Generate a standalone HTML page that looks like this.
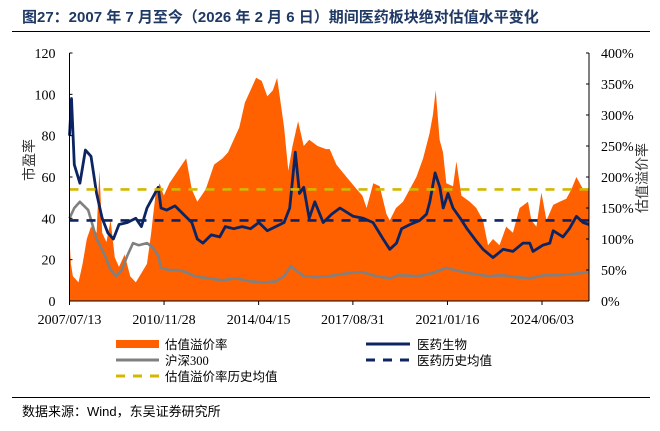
<!DOCTYPE html>
<html><head><meta charset="utf-8">
<style>
body{margin:0;background:#fff;width:660px;height:426px;overflow:hidden;font-family:"Liberation Serif","Noto Serif CJK SC",serif;}
svg text{font-family:"Liberation Serif","Noto Sans CJK SC",serif;}
</style></head><body>
<svg id="chart" width="660" height="426" xmlns="http://www.w3.org/2000/svg">
<text x="22" y="22" font-size="15" font-weight="bold" fill="#1f3864" style="font-family:'Liberation Sans','Noto Sans CJK SC',sans-serif">图27：2007 年 7 月至今（2026 年 2 月 6 日）期间医药板块绝对估值水平变化</text>
<line x1="12" y1="31.5" x2="650" y2="31.5" stroke="#000" stroke-width="1"/>
<line x1="12" y1="397.5" x2="650" y2="397.5" stroke="#000" stroke-width="1"/>
<text x="22" y="416" font-size="13" fill="#000" style="font-family:'Liberation Sans','Noto Sans CJK SC',sans-serif">数据来源：Wind，东吴证券研究所</text>
<g id="plot"></g>
<g id="legend" style="font-family:'Liberation Sans','Noto Sans CJK SC',sans-serif">
 <rect x="116" y="340" width="43" height="8" fill="#ff6000"/>
 <text x="165" y="349" font-size="12.5">估值溢价率</text>
 <line x1="116" y1="360" x2="159" y2="360" stroke="#808080" stroke-width="3"/>
 <text x="165" y="365" font-size="12.5">沪深300</text>
 <line x1="116" y1="376" x2="159" y2="376" stroke="#d4b800" stroke-width="3" stroke-dasharray="9,8"/>
 <text x="165" y="381" font-size="12.5">估值溢价率历史均值</text>
 <line x1="366" y1="344" x2="410" y2="344" stroke="#0c2461" stroke-width="3"/>
 <text x="417" y="349" font-size="12.5">医药生物</text>
 <line x1="366" y1="360" x2="410" y2="360" stroke="#0c2461" stroke-width="3" stroke-dasharray="9,8"/>
 <text x="417" y="365" font-size="12.5">医药历史均值</text>
</g>
</svg>
<script>
const premDates=[2007.53,2007.58,2007.65,2007.75,2007.85,2008.0,2008.15,2008.3,2008.5,2008.6,2008.7,2008.85,2009.0,2009.15,2009.3,2009.5,2009.7,2009.9,2010.1,2010.3,2010.45,2010.6,2010.75,2010.9,2011.1,2011.4,2011.7,2011.9,2012.1,2012.4,2012.7,2013.0,2013.2,2013.4,2013.6,2013.8,2014.0,2014.2,2014.4,2014.6,2014.8,2014.95,2015.2,2015.35,2015.5,2015.7,2015.9,2016.1,2016.4,2016.7,2016.83,2017.07,2017.43,2017.8,2018.0,2018.15,2018.39,2018.62,2018.86,2018.98,2019.2,2019.45,2019.69,2019.93,2020.17,2020.4,2020.52,2020.62,2020.76,2020.88,2021.0,2021.24,2021.36,2021.54,2021.84,2022.07,2022.31,2022.49,2022.67,2022.9,2023.14,2023.38,2023.62,2023.92,2024.04,2024.22,2024.4,2024.58,2024.82,2025.05,2025.29,2025.47,2025.65,2025.89,2026.1];
const premVals=[100,60,40,35,30,60,100,120,110,210,110,95,130,70,55,75,40,30,45,60,110,170,190,170,190,210,230,180,160,180,220,230,240,260,280,320,340,360,355,330,340,360,280,210,250,290,250,260,250,245,245,220,200,180,170,150,190,185,140,130,150,160,180,200,230,270,300,340,260,240,190,185,225,170,160,150,130,90,100,90,120,110,150,160,130,120,175,130,155,160,165,180,200,180,180];
const peDates=[2007.53,2007.6,2007.7,2007.9,2008.1,2008.3,2008.5,2008.7,2008.9,2009.1,2009.3,2009.6,2009.9,2010.1,2010.3,2010.5,2010.7,2010.8,2011.0,2011.3,2011.6,2011.9,2012.1,2012.3,2012.6,2012.9,2013.1,2013.4,2013.7,2014.0,2014.3,2014.6,2014.9,2015.2,2015.4,2015.6,2015.75,2015.9,2016.1,2016.3,2016.6,2016.9,2017.2,2017.67,2018.03,2018.38,2018.74,2018.98,2019.22,2019.4,2019.7,2020.05,2020.29,2020.41,2020.6,2020.77,2020.89,2021.06,2021.24,2021.5,2021.74,2022.07,2022.31,2022.67,2023.03,2023.38,2023.74,2023.98,2024.1,2024.45,2024.7,2024.82,2025.17,2025.4,2025.65,2025.89,2026.1];
const peVals=[80,98,66,57,73,70,52,40,33,30,37,38,40,36,45,50,55,45,44,46,42,38,30,28,32,31,36,35,36,35,38,34,36,38,45,72,52,55,40,48,38,42,45,41,40,38,30,25,28,35,37,39,42,48,62,55,45,52,45,40,35,29,25,21,25,24,28,28,24,27,28,34,31,35,41,38,37];
const hsDates=[2007.53,2007.7,2007.9,2008.2,2008.5,2008.8,2009.0,2009.2,2009.4,2009.6,2009.8,2010.0,2010.3,2010.5,2010.7,2010.8,2011.1,2011.4,2011.7,2012.0,2012.5,2013.0,2013.5,2014.0,2014.5,2014.9,2015.2,2015.45,2015.7,2015.9,2016.3,2016.8,2017.5,2018.0,2018.5,2019.0,2019.3,2020.0,2020.5,2021.0,2021.3,2021.8,2022.5,2023.0,2023.5,2024.0,2024.5,2025.0,2025.5,2026.1];
const hsVals=[40,45,48,44,30,22,15,12,15,22,28,27,28,26,22,16,15,15,14,12,11,10,11,9.5,9,9.5,12,17,14,12,11.5,12,13.5,14,12,11,12.5,12,13.5,16,15,13.5,12,12.5,11.5,11,12.5,12.5,13,14];
const peAvg=[39];
const premAvg=[180];
const leftTicks=[0,20,40,60,80,100,120];
const rightTicks=[0,50,100,150,200,250,300,350,400];
const xTickLabels=["2007/07/13","2010/11/28","2014/04/15","2017/08/31","2021/01/16","2024/06/03"];
const xTickDates=[2007.53,2010.91,2014.29,2017.66,2021.04,2024.42];

const X0=69.5,X1=589,Y0=301,Y1=53;
const xs=d=>X0+(d-2007.53)/(2026.1-2007.53)*(X1-X0);
const yl=v=>Y0-v/120*(Y0-Y1);
const yr=v=>Y0-v/400*(Y0-Y1);
const NS="http://www.w3.org/2000/svg";
const g=document.getElementById('plot');
function mk(tag,attrs){const e=document.createElementNS(NS,tag);for(const k in attrs)e.setAttribute(k,attrs[k]);g.appendChild(e);return e;}

let d="M"+xs(premDates[0])+","+Y0;
premDates.forEach((t,i)=>{d+=" L"+xs(t).toFixed(1)+","+yr(premVals[i]).toFixed(1);});
d+=" L"+xs(premDates[premDates.length-1])+","+Y0+" Z";
const area=mk('path',{d:d,fill:'#ff6000'});



function line(ds,vs,fy,col,w){return mk('polyline',{points:ds.map((t,i)=>xs(t).toFixed(1)+","+fy(vs[i]).toFixed(1)).join(" "),fill:'none',stroke:col,'stroke-width':w,'stroke-linejoin':'round'});}
const hs=line(hsDates,hsVals,yl,'#808080',2.6);


const pe=line(peDates,peVals,yl,'#0c2461',2.8);



const a1=mk('line',{x1:X0,x2:X1,y1:yl(peAvg[0]),y2:yl(peAvg[0]),stroke:'#0c2461','stroke-width':2.6,'stroke-dasharray':'9,8'});


const a2=mk('line',{x1:X0,x2:X1,y1:yr(premAvg[0]),y2:yr(premAvg[0]),stroke:'#d4b800','stroke-width':2.6,'stroke-dasharray':'9,8'});



mk('line',{x1:X0,x2:X0,y1:Y1,y2:Y0,stroke:'#000','stroke-width':1});
mk('line',{x1:X1,x2:X1,y1:Y1,y2:Y0,stroke:'#000','stroke-width':1});
mk('line',{x1:X0,x2:X1,y1:Y0,y2:Y0,stroke:'#000','stroke-width':1});
leftTicks.forEach(v=>{mk('line',{x1:X0,x2:X0+3,y1:yl(v),y2:yl(v),stroke:'#000'});
 const t=mk('text',{x:X0-14,y:yl(v)+5,'font-size':14,'text-anchor':'end'});t.textContent=v;
 
 });
rightTicks.forEach(v=>{mk('line',{x1:X1-3,x2:X1,y1:yr(v),y2:yr(v),stroke:'#000'});
 const t=mk('text',{x:X1+12,y:yr(v)+5,'font-size':14});t.textContent=v+"%";
 
 });
xTickDates.forEach((v,i)=>{mk('line',{x1:xs(v),x2:xs(v),y1:Y0,y2:Y0+4,stroke:'#000'});
 const t=mk('text',{x:xs(v),y:Y0+23,'font-size':14,'text-anchor':'middle'});t.textContent=xTickLabels[i];
 
 });
const yt=mk('text',{x:0,y:0,'font-size':14,fill:'#333',transform:'translate(34,160) rotate(-90)','text-anchor':'middle'});
yt.textContent="市盈率";


const yt2=mk('text',{x:0,y:0,'font-size':14,fill:'#333',transform:'translate(647,178) rotate(-90)','text-anchor':'middle'});
yt2.textContent="估值溢价率";


</script>
</body></html>
